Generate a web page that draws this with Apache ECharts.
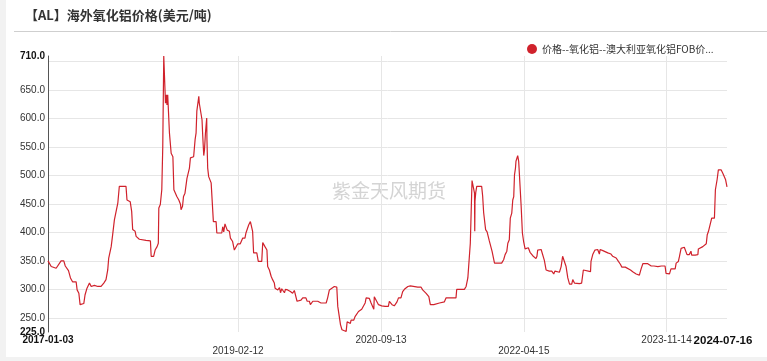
<!DOCTYPE html>
<html>
<head>
<meta charset="utf-8">
<script src="https://cdn.jsdelivr.net/npm/echarts@6/dist/echarts.min.js"></script>
<style>
html,body{margin:0;padding:0;background:#f2f2f2;}
#c{width:767px;height:361px;}
</style>
</head>
<body>
<div id="c"></div>
<script>
var titleText = '【AL】海外氧化铝价格(美元/吨)';
var seriesName = '价格--氧化铝--澳大利亚氧化铝FOB价...';
var watermarkText = '紫金天风期货';

var xLabels = ['2017-01-03', '2019-02-12', '2020-09-13', '2022-04-15', '2023-11-14', '2024-07-16'];
var xLowerRow = ['2019-02-12', '2022-04-15'];
var xGridDates = ['2019-02-12', '2020-09-13', '2022-04-15', '2023-11-14'];
var yLabels = [225, 250, 300, 350, 400, 450, 500, 550, 600, 650, 710];
var yGrid = [250, 300, 350, 400, 450, 500, 550, 600, 650, 700];
var yMin = 225, yMax = 710;

var dates = [
'2017-01-03','2017-01-16','2017-02-05','2017-02-11','2017-02-25','2017-03-08','2017-03-14','2017-03-22','2017-03-27','2017-04-04',
'2017-04-13','2017-04-27','2017-05-01','2017-05-08','2017-05-13','2017-05-28','2017-06-02','2017-06-10','2017-06-20','2017-06-27',
'2017-07-10','2017-07-24','2017-08-06','2017-08-17','2017-08-26','2017-09-02','2017-09-06','2017-09-16','2017-09-22','2017-09-29',
'2017-10-06','2017-10-13','2017-10-19','2017-11-15','2017-11-19','2017-12-02','2017-12-08','2017-12-12','2017-12-22','2017-12-26',
'2018-01-08','2018-01-15','2018-02-04','2018-02-22','2018-02-25','2018-03-07','2018-03-13','2018-03-21','2018-03-26','2018-03-28',
'2018-04-03','2018-04-09','2018-04-13','2018-04-17','2018-04-22','2018-04-24','2018-04-28','2018-04-30','2018-05-03','2018-05-07',
'2018-05-10','2018-05-14','2018-05-17','2018-05-24','2018-05-28','2018-06-03','2018-06-09','2018-06-17','2018-06-24','2018-06-26',
'2018-07-02','2018-07-06','2018-07-12','2018-07-20','2018-07-26','2018-07-30','2018-08-03','2018-08-16','2018-08-22','2018-08-26',
'2018-08-29','2018-09-02','2018-09-06','2018-09-08','2018-09-15','2018-09-19','2018-09-22','2018-09-26','2018-09-29','2018-10-03',
'2018-10-08','2018-10-09','2018-10-12','2018-10-16','2018-10-23','2018-10-26','2018-11-01','2018-11-04','2018-11-15','2018-11-18',
'2018-12-08','2018-12-12','2018-12-16','2018-12-21','2018-12-28','2018-12-30','2019-01-08','2019-01-12','2019-01-21','2019-01-28',
'2019-02-04','2019-02-11','2019-02-21','2019-03-03','2019-03-12','2019-03-16','2019-03-23','2019-03-27','2019-04-03','2019-04-10',
'2019-04-12','2019-04-16','2019-04-29','2019-05-05','2019-05-19','2019-05-23','2019-06-01','2019-06-09','2019-06-12','2019-06-19',
'2019-06-26','2019-07-02','2019-07-09','2019-07-12','2019-07-23','2019-07-30','2019-08-03','2019-08-08','2019-08-16','2019-08-19',
'2019-08-23','2019-09-01','2019-09-12','2019-09-21','2019-09-28','2019-10-05','2019-10-09','2019-10-25','2019-11-01','2019-11-14',
'2019-11-19','2019-11-28','2019-12-02','2019-12-09','2019-12-12','2020-01-01','2020-01-08','2020-01-14','2020-02-04','2020-02-10',
'2020-02-17','2020-02-24','2020-03-08','2020-03-18','2020-03-22','2020-03-29','2020-04-02','2020-04-08','2020-04-25','2020-04-29',
'2020-05-12','2020-05-15','2020-05-26','2020-05-31','2020-06-08','2020-06-14','2020-06-20','2020-06-27','2020-07-05','2020-07-11',
'2020-07-15','2020-07-22','2020-07-28','2020-08-04','2020-08-11','2020-08-15','2020-08-17','2020-08-24','2020-09-03','2020-09-07',
'2020-09-16','2020-09-24','2020-09-30','2020-10-08','2020-10-13','2020-10-17','2020-10-28','2020-11-06','2020-11-17','2020-11-23',
'2020-12-03','2020-12-10','2020-12-17','2020-12-31','2021-01-10','2021-01-16','2021-02-09','2021-02-22','2021-03-01','2021-03-15',
'2021-03-26','2021-04-01','2021-04-15','2021-04-18','2021-05-08','2021-05-12','2021-05-28','2021-06-04','2021-07-14','2021-07-17',
'2021-08-17','2021-08-24','2021-08-31','2021-09-06','2021-09-10','2021-09-16','2021-09-17','2021-09-23','2021-09-27','2021-09-28',
'2021-09-29','2021-10-02','2021-10-06','2021-10-26','2021-10-30','2021-11-03','2021-11-09','2021-11-11','2021-11-17','2021-11-22',
'2021-11-26','2021-12-03','2021-12-07','2021-12-10','2021-12-14','2021-12-17','2022-01-15','2022-01-23','2022-01-29','2022-02-05',
'2022-02-09','2022-02-15','2022-02-19','2022-02-25','2022-03-01','2022-03-05','2022-03-08','2022-03-12','2022-03-14','2022-03-21',
'2022-03-25','2022-03-29','2022-04-04','2022-04-09','2022-04-14','2022-04-20','2022-04-28','2022-05-03','2022-05-10','2022-05-21',
'2022-05-28','2022-06-03','2022-06-07','2022-06-10','2022-06-24','2022-06-30','2022-07-07','2022-07-14','2022-07-27','2022-08-06',
'2022-08-14','2022-08-19','2022-09-06','2022-09-13','2022-09-19','2022-09-26','2022-10-03','2022-10-10','2022-10-17','2022-10-26',
'2022-10-30','2022-11-06','2022-11-26','2022-12-05','2022-12-12','2022-12-19','2023-01-10','2023-01-12','2023-01-19','2023-01-28',
'2023-02-08','2023-02-15','2023-02-18','2023-03-01','2023-03-07','2023-03-21','2023-04-03','2023-04-10','2023-04-24','2023-05-03',
'2023-05-11','2023-05-17','2023-05-31','2023-06-03','2023-06-21','2023-06-30','2023-07-14','2023-07-27','2023-08-03','2023-08-10',
'2023-08-30','2023-09-06','2023-09-13','2023-09-24','2023-09-29','2023-10-10','2023-10-17','2023-10-24','2023-11-08','2023-11-12',
'2023-11-26','2023-12-02','2023-12-19','2023-12-23','2024-01-01','2024-01-05','2024-01-12','2024-01-25','2024-02-01','2024-02-05',
'2024-02-14','2024-02-21','2024-02-24','2024-03-09','2024-03-20','2024-03-22','2024-03-30','2024-04-09','2024-04-16','2024-04-23',
'2024-04-27','2024-05-02','2024-05-10','2024-05-15','2024-05-26','2024-05-30','2024-06-02','2024-06-06','2024-06-11','2024-06-22',
'2024-06-29','2024-07-06','2024-07-10','2024-07-16'
];
var prices = [
350,340,337,340,350,350,341,340,333,320,
313,313,299,293,273,275,290,302,311,305,
307,305,305,311,317,334,355,375,396,422,
437,452,481,481,457,454,437,405,402,393,
388,391,386,385,358,358,369,375,381,443,
449,475,551,710,710,627,642,624,642,642,
575,575,539,533,475,472,463,457,449,440,
446,463,469,495,498,513,531,533,563,575,
613,613,639,627,627,598,569,535,545,575,
601,563,513,498,495,487,485,419,419,399,
399,410,401,415,414,404,402,390,384,369,
372,380,380,390,390,399,400,413,419,421,
402,364,364,349,349,382,375,369,340,334,
323,317,311,302,299,303,294,301,299,294,
300,299,296,293,298,298,279,281,285,285,
279,279,273,273,279,279,280,276,276,285,
299,302,305,304,270,267,238,229,226,243,
240,246,246,252,255,261,260,265,266,276,
285,285,284,276,273,265,287,285,273,276,
271,273,270,267,270,279,273,271,278,285,
285,296,300,305,306,304,304,304,299,293,
287,273,273,276,276,278,278,285,285,300,
300,305,320,322,381,381,491,491,469,402,
455,470,481,481,464,435,435,405,401,399,
385,385,367,364,365,346,346,352,361,367,
381,387,425,434,457,463,501,513,525,535,
525,522,446,399,384,371,370,373,365,359,
358,354,358,369,370,369,351,334,332,332,
327,332,330,340,358,358,340,320,309,309,
317,311,310,311,334,331,331,349,361,369,
370,362,370,368,367,364,362,358,355,349,
344,339,339,336,334,331,327,325,336,345,
345,343,341,341,339,340,338,341,341,328,
327,336,336,346,349,357,372,374,372,361,
361,367,360,360,361,371,369,375,378,380,
396,402,405,425,425,475,478,493,510,510,
504,503,493,480
];

var P = function (s) { return +echarts.time.parse(s); };
var seriesData = dates.map(function (d, i) { return [P(d), prices[i]]; });
var xLabelMap = {};
xLabels.forEach(function (s, i) { xLabelMap[P(s)] = i; });

var chart = echarts.init(document.getElementById('c'), null, {renderer: 'canvas'});
var FONT = '"Liberation Sans", Arial, sans-serif';
var option = {
  animation: false,
  backgroundColor: 'transparent',
  textStyle: {fontFamily: FONT},
  graphic: [
    {type: 'rect', left: 6, top: 0, shape: {width: 761, height: 357}, style: {fill: '#ffffff'}, z: -10, silent: true},
    {type: 'line', shape: {x1: 14, y1: 31.5, x2: 767, y2: 31.5}, style: {stroke: '#cfcfcf', lineWidth: 1}, z: -5, silent: true},
    {type: 'text', left: 25, top: 9, style: {text: titleText, font: 'bold 13px "Noto Sans CJK SC", sans-serif', fill: '#333'}},
    {type: 'text', left: 332, top: 181, style: {text: watermarkText, font: '19px "Noto Sans CJK SC", sans-serif', fill: '#d4d4d4'}, z: -1, silent: true}
  ],
  legend: {
    left: 522, top: 39,
    itemWidth: 10, itemHeight: 10, itemGap: 5,
    icon: 'circle',
    textStyle: {fontSize: 10, color: '#333', fontFamily: '"Noto Sans CJK SC", sans-serif'},
    data: [seriesName]
  },
  grid: {left: 48, right: 40, top: 56, bottom: 29, containLabel: false},
  xAxis: {
    type: 'value',
    min: P(xLabels[0]), max: P(xLabels[xLabels.length - 1]),
    axisLine: {show: false},
    axisTick: {show: false, customValues: xGridDates.map(P)},
    splitLine: {show: true, lineStyle: {color: '#e6e6e6', width: 1}},
    axisLabel: {
      customValues: xLabels.map(P),
      margin: 3,
      hideOverlap: false,
      showMinLabel: true, showMaxLabel: true,
      formatter: function (v) {
        var i = xLabelMap[v];
        if (i === undefined) return '';
        var s = xLabels[i];
        var txt;
        if (i === 0) txt = '{b|' + s + '}';
        else if (i === xLabels.length - 1) txt = '{bb|' + s + '}';
        else txt = '{n|' + s + '}';
        return (xLowerRow.indexOf(s) >= 0) ? '{n| }\n' + txt : txt;
      },
      rich: {
        n: {fontSize: 10, color: '#333', lineHeight: 11, fontFamily: FONT},
        b: {fontSize: 10, color: '#111', fontWeight: 'bold', lineHeight: 11, fontFamily: FONT},
        bb: {fontSize: 11.5, color: '#111', fontWeight: 'bold', lineHeight: 11, fontFamily: FONT, padding: [0, 8, 0, 0]}
      }
    }
  },
  yAxis: {
    type: 'value',
    min: yMin, max: yMax,
    axisLine: {show: true, lineStyle: {color: '#555', width: 1}},
    axisTick: {show: false, customValues: yGrid},
    splitLine: {show: true, lineStyle: {color: '#e6e6e6', width: 1}},
    axisLabel: {
      customValues: yLabels,
      margin: 3,
      formatter: function (v) {
        var s = v.toFixed(1);
        return (v === yMin || v === yMax) ? '{b|' + s + '}' : '{n|' + s + '}';
      },
      rich: {
        n: {fontSize: 10, color: '#333', fontFamily: FONT},
        b: {fontSize: 10, color: '#111', fontWeight: 'bold', fontFamily: FONT}
      }
    }
  },
  series: [{
    name: seriesName,
    type: 'line',
    data: seriesData,
    showSymbol: false,
    symbol: 'circle',
    color: '#d0222c',
    lineStyle: {color: '#d0222c', width: 1.2},
    z: 3
  }]
};
chart.setOption(option);
</script>
</body>
</html>
